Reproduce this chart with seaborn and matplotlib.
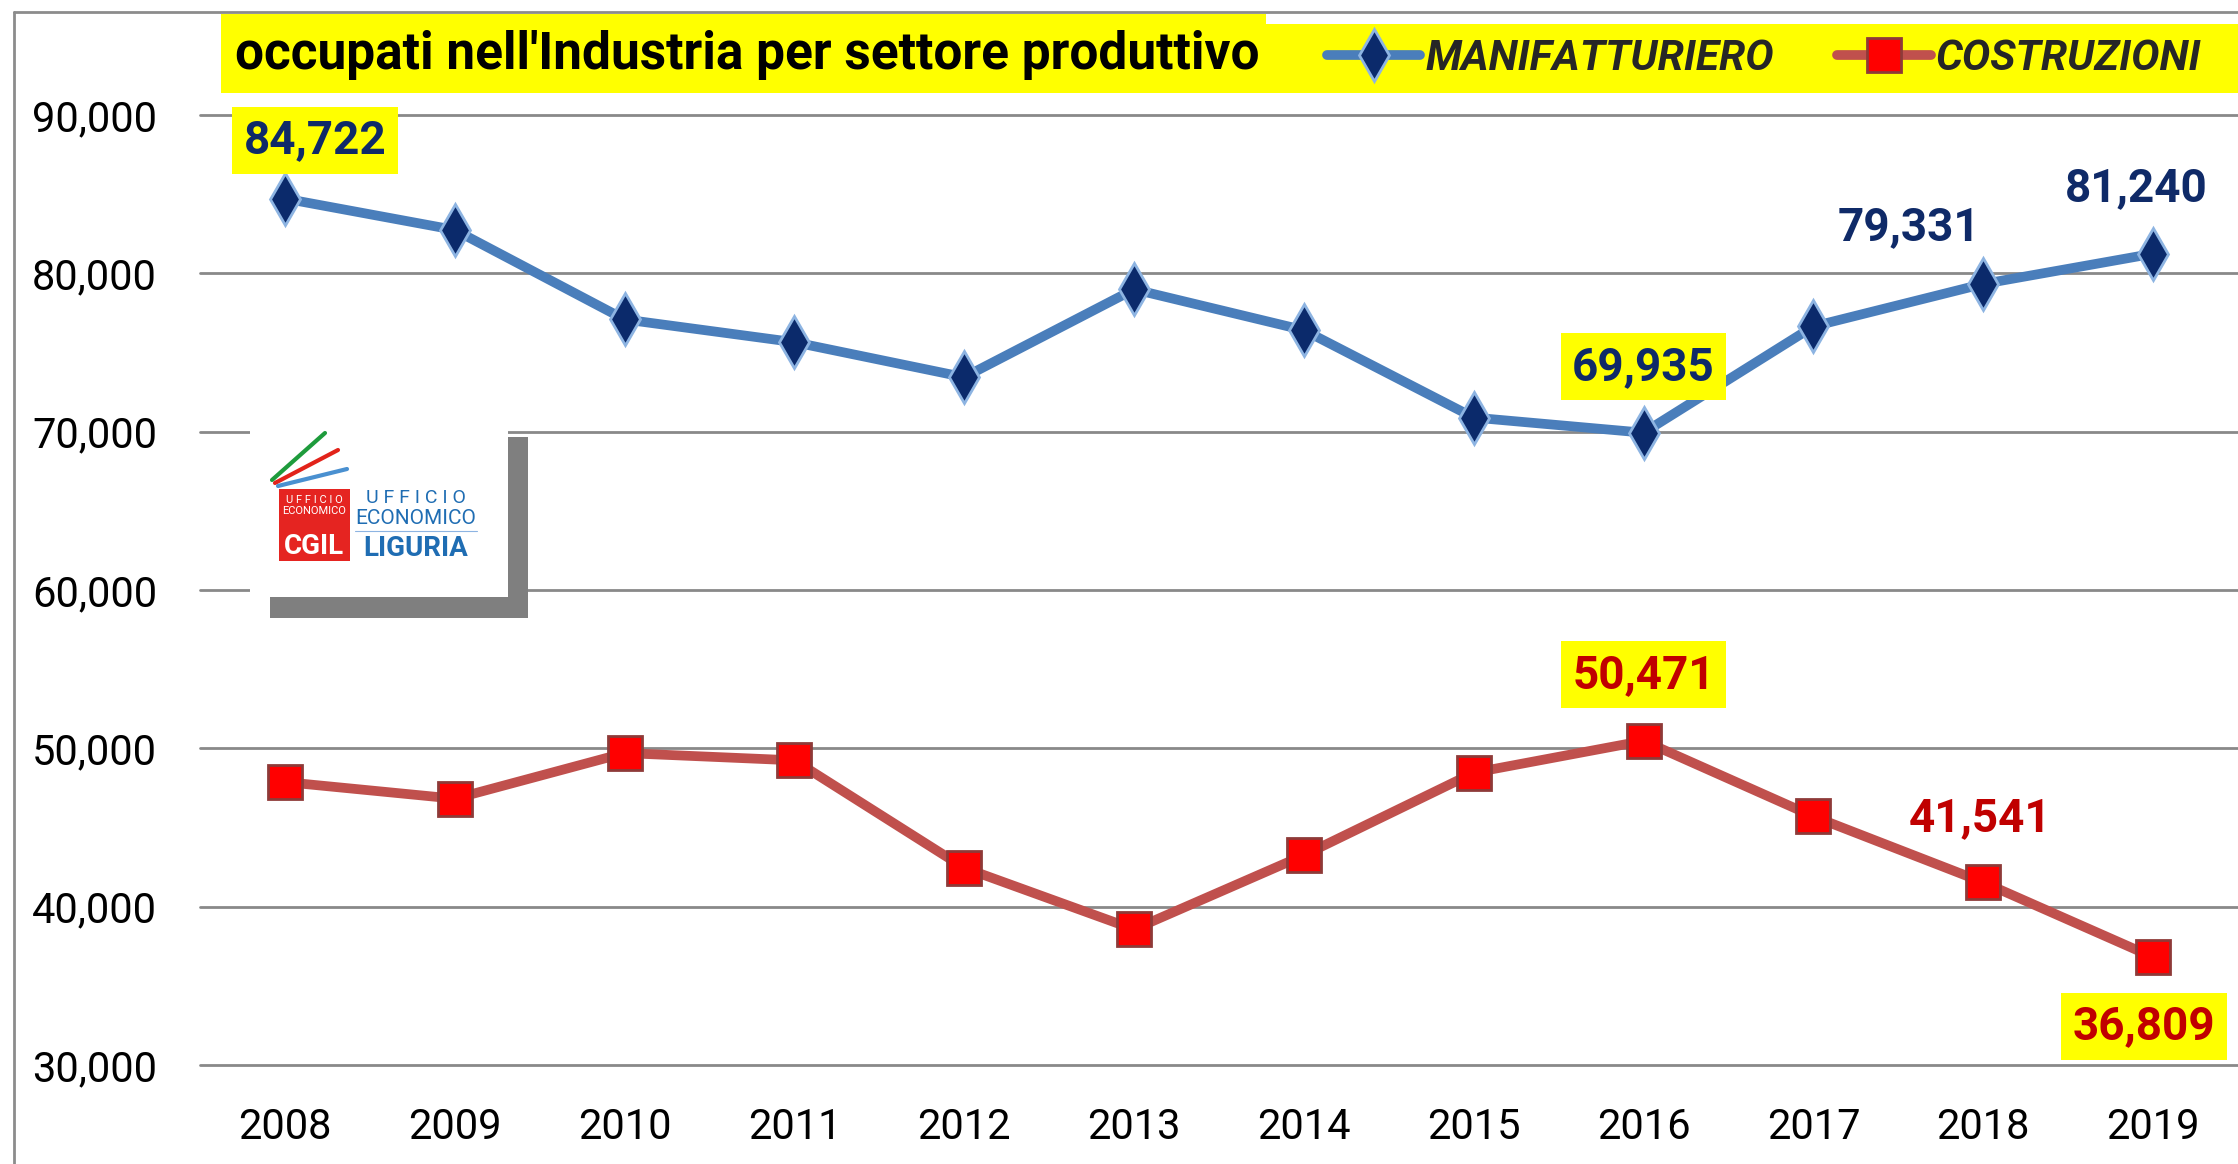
import pandas as pd
import seaborn as sns
import matplotlib.pyplot as plt
import matplotlib.transforms as mtransforms
from matplotlib.patches import Rectangle
from matplotlib.lines import Line2D
from matplotlib.ticker import FuncFormatter

# dati: occupati per settore (Liguria)
years = [2008, 2009, 2010, 2011, 2012, 2013, 2014, 2015, 2016, 2017, 2018, 2019]
manifatturiero = [84722, 82740, 77090, 75650, 73440, 78990, 76410, 70890, 69935, 76650, 79331, 81240]
costruzioni = [47870, 46820, 49700, 49240, 42450, 38570, 43250, 48460, 50471, 45700, 41541, 36809]
series_names = ['MANIFATTURIERO', 'COSTRUZIONI']
title = "occupati nell'Industria per settore produttivo"

df = pd.DataFrame({'anno': years, 'MANIFATTURIERO': manifatturiero, 'COSTRUZIONI': costruzioni})

W, H = 2238, 1164
sns.set_theme(style='white')
plt.rcParams['font.family'] = ['Roboto', 'DejaVu Sans']

fig = plt.figure(figsize=(W / 100, H / 100), dpi=100)
ax = fig.add_axes([200 / W, 1 - 1065 / H, 2038 / W, 950 / H])
ax.patch.set_alpha(0)

# pixel transform (origin top-left) for decorations
px = mtransforms.Affine2D().scale(1 / W, -1 / H).translate(0, 1) + fig.transFigure

sns.lineplot(data=df, x='anno', y='MANIFATTURIERO', ax=ax, color='#4A7EBB', linewidth=7,
             marker='d', markersize=26, markerfacecolor='#0B2A6B', markeredgecolor='#8DB4E2',
             markeredgewidth=2, label=series_names[0], zorder=3)
sns.lineplot(data=df, x='anno', y='COSTRUZIONI', ax=ax, color='#C0504D', linewidth=7,
             marker='s', markersize=24, markerfacecolor='#FF0000', markeredgecolor='#8E3A38',
             markeredgewidth=2, label=series_names[1], zorder=3)

handles, labels = ax.get_legend_handles_labels()
ax.get_legend().remove()

ax.set_xlim(2007.5, 2019.5)
ax.set_ylim(30000, 90000)
ax.set_xticks(years)
ax.set_yticks(range(30000, 90001, 10000))
ax.yaxis.set_major_formatter(FuncFormatter(lambda v, _: f'{int(v):,}'))
ax.set_xlabel('')
ax.set_ylabel('')
ax.tick_params(axis='both', length=0, labelsize=30, colors='black')
ax.tick_params(axis='x', pad=30)
ax.tick_params(axis='y', pad=31)
ax.grid(axis='y', color='#898989', linewidth=2)
for gl in ax.get_ygridlines():
    gl.set_clip_on(False)
for s in ax.spines.values():
    s.set_visible(False)

# etichette dati
blue_txt, red_txt = '#0F2A68', '#C00000'
m_labels = [(0, 30, 58, True), (8, 0, 66, True), (10, -74, 57, False), (11, -17, 66, False)]
c_labels = [(8, 0, 66, True), (10, -3, 64, False), (11, -9, -69, True)]
for vals, specs, col in [(manifatturiero, m_labels, blue_txt), (costruzioni, c_labels, red_txt)]:
    for i, dx, dy, boxed in specs:
        ax.annotate(f'{vals[i]:,}', xy=(years[i], vals[i]), xytext=(dx, dy),
                    textcoords='offset pixels', ha='center', va='center',
                    fontsize=33, fontweight='bold', color=col, zorder=5,
                    bbox=dict(boxstyle='square,pad=0.25', fc='#FFFF00', ec='none') if boxed else None)

# bordo del grafico
fig.add_artist(Line2D([14, 14], [12, H], transform=px, color='#8C8C8C', lw=2))
fig.add_artist(Line2D([14, W], [12, 12], transform=px, color='#8C8C8C', lw=2))

# titolo e legenda su fondo giallo
fig.add_artist(Rectangle((221, 14), 1045, 79, transform=px, fc='#FFFF00', ec='none', zorder=1))
fig.add_artist(Rectangle((1266, 24), W - 1266, 69, transform=px, fc='#FFFF00', ec='none', zorder=1))
fig.text(235 / W, 1 - 55 / H, title, fontsize=37, fontweight='bold', color='black',
         ha='left', va='center', zorder=3)
fig.legend(handles, labels, loc='center left', bbox_to_anchor=(1327 / W, 1 - 58 / H), ncol=2,
           frameon=False, prop=dict(family='Roboto', weight='bold', style='italic', size=30.5),
           handlelength=2.2, handletextpad=0.12, columnspacing=1.5, borderpad=0,
           borderaxespad=0)

# logo
fig.add_artist(Rectangle((508, 437), 20, 181, transform=px, fc='#7F7F7F', ec='none', zorder=2))
fig.add_artist(Rectangle((270, 597), 258, 21, transform=px, fc='#7F7F7F', ec='none', zorder=2))
fig.add_artist(Rectangle((250, 425), 258, 172, transform=px, fc='white', ec='none', zorder=2))
fig.add_artist(Line2D([272, 325], [480, 433], transform=px, color='#1E9B3C', lw=3, zorder=3))
fig.add_artist(Line2D([275, 338], [483, 450], transform=px, color='#E2231A', lw=3, zorder=3))
fig.add_artist(Line2D([278, 347], [486, 469], transform=px, color='#4A90D0', lw=3, zorder=3))
fig.add_artist(Rectangle((279, 489), 71, 72, transform=px, fc='#E52421', ec='none', zorder=3))
fig.add_artist(Line2D([355, 477], [531, 531], transform=px, color='#8DB4E2', lw=0.8, zorder=3))
logo_txt = [
    ('U F F I C I O', 314, 500, 8, 'normal', 'white'),
    ('ECONOMICO', 314, 511, 8, 'normal', 'white'),
    ('CGIL', 314, 546, 20, 'bold', 'white'),
    ('U F F I C I O', 416, 498, 14, 'normal', '#1F6DB3'),
    ('ECONOMICO', 416, 519, 15, 'normal', '#1F6DB3'),
    ('LIGURIA', 416, 548, 20, 'bold', '#1F6DB3'),
]
for t, x, y, fs, fw, c in logo_txt:
    fig.text(x / W, 1 - y / H, t, fontsize=fs, fontweight=fw, color=c,
             ha='center', va='center', zorder=4)

plt.savefig('out.png', dpi=100)
plt.close()
